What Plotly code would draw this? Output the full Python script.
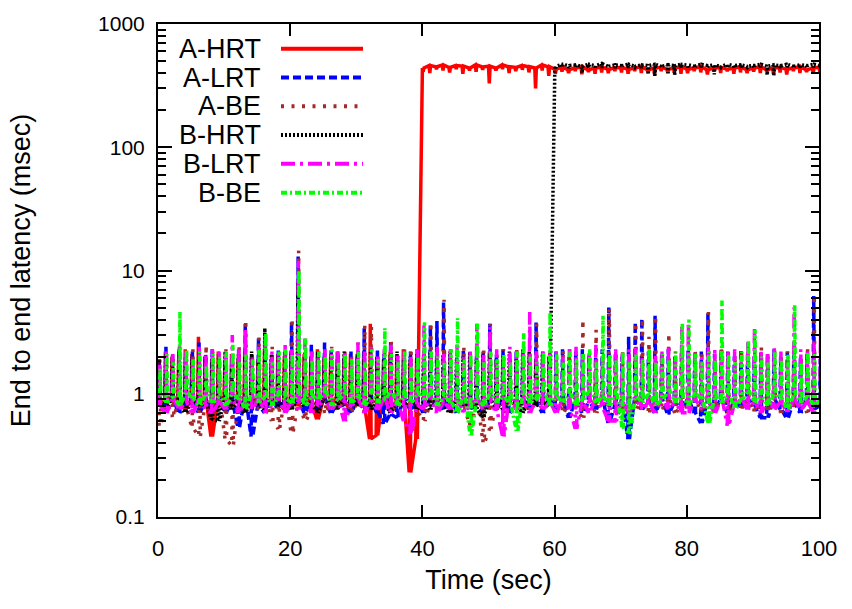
import plotly.graph_objects as go

# Time axis (seconds): one burst of messages per second
time_sec = list(range(0, 101))

series_names = ["A-HRT", "A-LRT", "A-BE", "B-HRT", "B-LRT", "B-BE"]

# For every second: "base" latency (level the trace returns to) and "peak" latency
# (the excursion inside that second), in msec.
a_hrt_base = [0.9, 0.8, 0.95, 0.85, 0.75, 0.9, 0.8, 0.95, 0.45, 0.85,
              0.95, 0.8, 0.9, 0.75, 0.85, 0.95, 0.8, 0.9, 0.85, 0.75,
              0.9, 0.8, 0.95, 0.85, 0.62, 0.9, 0.8, 0.95, 0.85, 0.75,
              0.9, 0.8, 0.43, 0.46, 0.95, 0.85, 0.8, 0.9, 0.23, 0.43,
              440, 460, 450, 465, 445, 460, 455, 440, 465, 450,
              455, 440, 465, 450, 445, 460, 450, 440, 465, 450,
              430, 445, 425, 440, 450, 425, 440, 445, 430, 440,
              445, 430, 440, 450, 425, 440, 445, 430, 440, 450,
              430, 440, 450, 425, 440, 445, 430, 440, 450, 425,
              440, 450, 425, 440, 445, 430, 440, 450, 425, 440,
              445]
a_hrt_peak = [1.8, 2.2, 2.0, 1.9, 2.3, 2.1, 2.9, 2.0, 1.9, 2.2,
              1.85, 2.1, 1.9, 2.2, 2.0, 1.9, 2.3, 1.9, 2.1, 2.0,
              2.2, 1.9, 2.1, 2.0, 2.3, 1.9, 2.0, 2.2, 1.9, 2.1,
              2.0, 2.2, 3.7, 2.0, 1.9, 2.2, 2.0, 2.3, 1.8, 1.9,
              410, 400, 430, 420, 405, 430, 395, 420, 410, 425,
              330, 420, 430, 400, 415, 425, 405, 300, 420, 380,
              395, 410, 400, 415, 390, 410, 395, 405, 400, 415,
              405, 395, 415, 400, 410, 390, 415, 400, 405, 395,
              400, 415, 405, 390, 410, 400, 415, 395, 405, 400,
              410, 400, 415, 395, 405, 390, 415, 400, 410, 395,
              410]

a_lrt_base = [0.85, 0.75, 0.9, 0.7, 0.8, 0.95, 0.7, 0.85, 0.75, 0.9,
              0.7, 0.85, 0.53, 0.9, 0.45, 0.8, 0.7, 0.9, 0.75, 0.85,
              0.8, 0.9, 0.7, 0.85, 0.75, 0.9, 0.7, 0.85, 0.8, 0.7,
              0.9, 0.75, 0.85, 0.7, 0.57, 0.68, 0.64, 0.9, 0.75, 0.85,
              0.7, 0.9, 0.8, 0.75, 0.9, 0.7, 0.85, 0.75, 0.9, 0.7,
              0.85, 0.75, 0.9, 0.7, 0.8, 0.9, 0.75, 0.85, 0.7, 0.9,
              0.75, 0.85, 0.64, 0.9, 0.7, 0.85, 0.75, 0.9, 0.58, 0.8,
              0.85, 0.43, 0.9, 0.75, 0.85, 0.7, 0.9, 0.68, 0.85, 0.75,
              0.9, 0.7, 0.58, 0.85, 0.75, 0.9, 0.7, 0.85, 0.75, 0.9,
              0.8, 0.64, 0.64, 0.9, 0.75, 0.63, 0.85, 0.7, 0.9, 0.75,
              0.8]
a_lrt_peak = [1.9, 2.4, 2.1, 2.3, 2.0, 2.2, 2.6, 2.1, 2.3, 2.0,
              2.2, 2.0, 2.3, 3.7, 2.1, 2.8, 2.2, 2.0, 2.3, 2.1,
              3.8, 13.0, 2.2, 2.5, 2.0, 2.6, 2.3, 2.1, 2.0, 2.2,
              2.2, 3.4, 2.0, 2.3, 2.1, 2.7, 2.0, 1.8, 2.2, 2.3,
              2.1, 3.6, 3.9, 5.5, 2.2, 2.0, 2.3, 2.1, 2.0, 2.2,
              3.7, 2.1, 2.3, 2.0, 2.2, 2.3, 2.1, 3.8, 2.2, 2.0,
              2.2, 2.3, 2.0, 2.2, 2.3, 2.1, 2.0, 2.3, 5.0, 2.1,
              2.0, 2.9, 3.8, 4.1, 2.2, 4.3, 2.1, 2.3, 2.0, 2.2,
              2.3, 2.0, 2.2, 4.5, 2.1, 2.3, 2.2, 2.0, 2.3, 2.1,
              2.0, 2.2, 2.1, 2.3, 2.0, 2.2, 2.3, 2.0, 2.1, 6.2,
              1.9]

a_be_base = [0.55, 0.85, 0.65, 0.9, 0.75, 0.52, 0.45, 0.85, 0.7, 0.9,
             0.42, 0.38, 0.85, 0.7, 0.9, 0.75, 0.85, 0.6, 0.52, 0.9,
             0.47, 0.85, 0.6, 0.75, 0.9, 0.7, 0.85, 0.75, 0.9, 0.7,
             0.85, 0.7, 0.9, 0.75, 0.85, 0.7, 0.9, 0.75, 0.85, 0.7,
             0.6, 0.85, 0.75, 0.9, 0.7, 0.85, 0.77, 0.55, 0.85, 0.4,
             0.52, 0.85, 0.7, 0.9, 0.75, 0.85, 0.7, 0.9, 0.75, 0.85,
             0.9, 0.7, 0.85, 0.75, 0.64, 0.9, 0.7, 0.85, 0.75, 0.9,
             0.7, 0.85, 0.75, 0.9, 0.7, 0.85, 0.75, 0.9, 0.7, 0.85,
             0.75, 0.9, 0.7, 0.85, 0.75, 0.9, 0.7, 0.85, 0.75, 0.9,
             0.7, 0.85, 0.75, 0.9, 0.7, 0.85, 0.75, 0.9, 0.7, 0.85,
             0.8]
a_be_peak = [1.9, 2.2, 2.0, 2.4, 2.1, 2.3, 2.0, 2.5, 2.2, 2.0,
             2.3, 2.1, 2.4, 4.0, 2.0, 2.9, 2.2, 2.4, 2.0, 2.3,
             4.1, 14.5, 2.0, 2.3, 2.2, 2.0, 2.4, 2.1, 2.3, 2.0,
             2.6, 3.6, 3.5, 2.0, 2.3, 2.7, 2.1, 2.4, 2.2, 2.0,
             2.2, 3.8, 2.1, 5.8, 2.3, 2.2, 2.4, 2.0, 2.2, 2.3,
             3.7, 2.1, 2.3, 2.0, 2.4, 2.1, 2.2, 3.7, 2.1, 2.3,
             2.0, 2.3, 2.3, 2.1, 4.0, 2.2, 3.3, 2.0, 5.0, 2.2,
             2.3, 2.0, 3.8, 4.1, 2.9, 4.3, 2.1, 3.1, 2.2, 2.4,
             2.1, 2.3, 2.2, 4.6, 2.0, 2.4, 2.2, 2.1, 2.3, 2.0,
             2.2, 2.4, 2.0, 2.3, 2.1, 2.2, 2.4, 2.0, 2.3, 6.3,
             2.0]

b_hrt_base = [0.85, 0.75, 0.9, 0.8, 0.7, 0.9, 0.8, 0.85, 0.62, 0.6,
              0.9, 0.75, 0.85, 0.7, 0.9, 0.8, 0.75, 0.9, 0.8, 0.85,
              0.75, 0.9, 0.8, 0.85, 0.7, 0.9, 0.8, 0.75, 0.9, 0.85,
              0.8, 0.9, 0.75, 0.85, 0.9, 0.7, 0.85, 0.8, 0.9, 0.75,
              0.85, 0.75, 0.9, 0.8, 0.7, 0.9, 0.8, 0.85, 0.75, 0.64,
              0.9, 0.8, 0.75, 0.9, 0.85, 0.7, 0.9, 0.8, 0.85, 0.8,
              455, 470, 460, 465, 455, 470, 460, 475, 455, 465,
              460, 470, 455, 465, 460, 470, 455, 465, 460, 470,
              465, 455, 470, 460, 465, 455, 470, 460, 465, 455,
              460, 470, 455, 465, 460, 470, 455, 465, 460, 470,
              460]
b_hrt_peak = [1.9, 2.1, 1.8, 2.2, 2.0, 1.9, 2.2, 2.0, 1.9, 2.1,
              2.2, 1.9, 2.1, 2.0, 2.2, 1.8, 3.4, 2.1, 1.9, 2.2,
              2.1, 8.0, 2.0, 1.9, 2.2, 2.0, 2.1, 1.9, 2.2, 1.9,
              2.1, 1.9, 2.2, 2.0, 1.9, 2.1, 2.2, 1.9, 2.0, 2.1,
              2.0, 2.2, 1.9, 2.1, 2.2, 1.9, 2.0, 2.2, 1.9, 2.1,
              2.2, 1.9, 2.0, 2.2, 1.9, 2.1, 2.2, 1.9, 2.1, 2.0,
              440, 445, 440, 445, 400, 440, 445, 440, 445, 440,
              445, 440, 445, 440, 390, 380, 445, 400, 385, 440,
              445, 440, 445, 440, 390, 445, 440, 445, 440, 445,
              440, 445, 385, 380, 440, 445, 440, 445, 440, 445,
              440]

b_lrt_base = [0.8, 0.7, 0.9, 0.75, 0.85, 0.7, 0.9, 0.75, 0.7, 0.85,
              0.75, 0.9, 0.7, 0.85, 0.75, 0.9, 0.7, 0.8, 0.9, 0.7,
              0.85, 0.75, 0.9, 0.7, 0.8, 0.9, 0.75, 0.85, 0.6, 0.8,
              0.9, 0.7, 0.85, 0.75, 0.9, 0.7, 0.85, 0.6, 0.47, 0.8,
              0.75, 0.9, 0.7, 0.85, 0.75, 0.9, 0.7, 0.8, 0.9, 0.75,
              0.85, 0.7, 0.45, 0.9, 0.75, 0.85, 0.7, 0.9, 0.75, 0.85,
              0.7, 0.9, 0.75, 0.52, 0.85, 0.7, 0.9, 0.75, 0.6, 0.6,
              0.85, 0.7, 0.9, 0.75, 0.85, 0.7, 0.9, 0.75, 0.85, 0.7,
              0.7, 0.9, 0.75, 0.85, 0.7, 0.9, 0.55, 0.8, 0.9, 0.75,
              0.85, 0.7, 0.9, 0.75, 0.85, 0.7, 0.9, 0.75, 0.85, 0.7,
              0.8]
b_lrt_peak = [1.8, 2.3, 2.1, 2.5, 2.2, 2.0, 2.4, 2.1, 2.3, 2.2,
              2.1, 3.0, 2.3, 3.3, 2.0, 2.4, 3.0, 2.2, 2.1, 2.5,
              2.3, 12.0, 2.8, 2.2, 2.0, 2.4, 2.1, 2.3, 2.2, 2.0,
              2.6, 2.2, 2.4, 2.0, 2.3, 2.5, 2.1, 2.2, 2.0, 2.3,
              3.6, 2.2, 2.4, 2.1, 2.3, 2.5, 2.0, 2.2, 3.7, 2.1,
              3.5, 2.3, 2.0, 2.4, 2.2, 2.1, 4.6, 2.3, 2.2, 2.1,
              2.2, 2.0, 2.3, 2.4, 2.1, 2.2, 2.5, 2.1, 2.0, 2.3,
              2.1, 2.3, 2.4, 2.0, 2.2, 2.1, 2.2, 2.4, 2.0, 3.5,
              3.8, 2.2, 2.0, 2.4, 2.3, 2.1, 2.2, 2.3, 2.0, 2.7,
              3.4, 2.2, 2.1, 2.4, 2.2, 2.0, 5.0, 2.3, 2.2, 2.6,
              3.0]

b_be_base = [1.0, 0.85, 0.95, 0.8, 1.05, 0.9, 0.8, 1.0, 0.85, 0.95,
             0.8, 1.0, 0.9, 0.75, 1.05, 0.85, 0.95, 0.8, 1.0, 0.9,
             0.85, 1.0, 0.8, 0.95, 0.9, 1.05, 0.8, 0.9, 1.0, 0.85,
             0.95, 0.8, 1.0, 0.85, 0.9, 1.05, 0.8, 0.95, 0.85, 1.0,
             0.9, 1.0, 0.8, 0.95, 0.85, 0.7, 1.0, 0.46, 0.9, 0.8,
             1.0, 0.85, 0.95, 0.8, 0.5, 1.0, 0.85, 0.9, 1.05, 0.8,
             0.95, 0.85, 1.0, 0.8, 0.9, 1.05, 0.85, 0.95, 0.8, 1.0,
             0.53, 0.47, 0.95, 0.85, 1.0, 0.8, 0.9, 1.05, 0.85, 0.95,
             0.8, 1.0, 0.9, 0.57, 0.95, 0.85, 1.0, 0.75, 0.9, 1.05,
             0.85, 0.95, 0.8, 1.0, 0.9, 0.75, 1.0, 0.85, 0.95, 0.8,
             0.9]
b_be_peak = [1.6, 2.1, 1.8, 4.6, 2.3, 1.9, 2.2, 1.7, 2.1, 2.0,
             2.2, 2.5, 1.8, 2.1, 1.9, 2.3, 3.1, 1.8, 2.2, 2.3,
             2.1, 10.0, 2.8, 1.9, 2.2, 2.0, 2.3, 1.8, 2.1, 1.9,
             2.2, 1.8, 2.3, 1.9, 3.4, 2.1, 1.8, 2.2, 1.7, 2.0,
             3.8, 2.2, 2.0, 1.8, 2.3, 4.1, 1.9, 2.1, 3.7, 1.8,
             2.2, 1.9, 2.1, 1.8, 2.2, 3.1, 2.0, 1.8, 2.2, 4.6,
             2.1, 1.8, 2.2, 1.9, 2.1, 2.3, 1.8, 4.3, 2.1, 1.9,
             2.2, 1.8, 2.1, 1.9, 2.3, 1.8, 2.1, 1.9, 2.2, 3.7,
             4.0, 2.1, 1.8, 2.2, 1.9, 5.7, 2.1, 1.8, 2.2, 2.7,
             3.3, 2.0, 1.8, 2.2, 1.9, 2.1, 5.3, 1.8, 2.2, 2.1,
             3.8]

series_base = [a_hrt_base, a_lrt_base, a_be_base, b_hrt_base, b_lrt_base, b_be_base]
series_peak = [a_hrt_peak, a_lrt_peak, a_be_peak, b_hrt_peak, b_lrt_peak, b_be_peak]
series_colors = ["#ff0000", "#0000ff", "#a52a2a", "#000000", "#ff00ff", "#00ff00"]
series_dash = ["solid", "8px,4px", "3px,7.5px", "2px,2px", "14px,5px,3px,5px", "6px,3px,2px,3px"]
# small sending-time offset of each flow inside a second (s)
series_offset = [0.0, 0.08, 0.16, 0.04, 0.12, 0.2]

FONT = "Liberation Sans, Arial, Helvetica, sans-serif"

fig = go.Figure()
for name, base, peak, col, dsh, off in zip(series_names, series_base, series_peak,
                                           series_colors, series_dash, series_offset):
    xs, ys = [], []
    for t, b, p in zip(time_sec, base, peak):
        # each second: base -> peak -> base (a burst of messages)
        xs += [t + off, t + off + 0.12, t + off + 0.24]
        ys += [b, p, b]
    fig.add_trace(go.Scatter(x=xs, y=ys, mode="lines", name=name,
                             line=dict(color=col, width=3.5, dash=dsh),
                             showlegend=False))

# Manual key (text left of the line sample, as in gnuplot)
key_rows_px = [45, 74, 103, 132, 161, 190]
plot_top, plot_bottom, plot_left, plot_right = 20, 517, 158, 819
ph = plot_bottom - plot_top
pw = plot_right - plot_left
for name, col, dsh, ypx in zip(series_names, series_colors, series_dash, key_rows_px):
    yp = (plot_bottom - ypx) / ph
    fig.add_annotation(x=(263 - plot_left) / pw, y=yp, xref="paper", yref="paper",
                       text=name, showarrow=False, xanchor="right", yanchor="middle",
                       font=dict(family=FONT, size=27, color="black"))
    fig.add_shape(type="line", xref="paper", yref="paper",
                  x0=(281 - plot_left) / pw, x1=(363 - plot_left) / pw, y0=yp, y1=yp,
                  line=dict(color=col, width=4, dash=dsh))

minor_vals = [m * 10.0 ** e for e in range(-1, 3) for m in range(2, 10)]

fig.update_layout(
    width=852, height=609,
    margin=dict(l=plot_left, r=852 - plot_right, t=plot_top, b=609 - plot_bottom),
    paper_bgcolor="white", plot_bgcolor="white",
    font=dict(family=FONT, size=22, color="black"),
    xaxis=dict(range=[0, 100], tickmode="array", tickvals=[0, 20, 40, 60, 80, 100],
               ticks="inside", ticklen=12, tickwidth=1.5, tickcolor="black",
               showline=True, linewidth=2, linecolor="black", mirror="ticks",
               showgrid=False, zeroline=False, ticklabelstandoff=11,
               tickfont=dict(size=22),
               title=dict(text="Time (sec)", font=dict(size=27), standoff=10)),
    yaxis=dict(type="log", range=[-1, 3], tickmode="array",
               tickvals=[0.1, 1, 10, 100, 1000], ticktext=["0.1", "1", "10", "100", "1000"],
               ticks="inside", ticklen=14, tickwidth=1.5, tickcolor="black",
               minor=dict(tickmode="array", tickvals=minor_vals, ticks="inside",
                          ticklen=8, tickwidth=1.5, tickcolor="black", showgrid=False),
               showline=True, linewidth=2, linecolor="black", mirror="ticks",
               showgrid=False, zeroline=False, ticklabelstandoff=7,
               tickfont=dict(size=21),
               title=dict(text="End to end latency (msec)", font=dict(size=27), standoff=60)),
)

fig.write_html("out.html")
